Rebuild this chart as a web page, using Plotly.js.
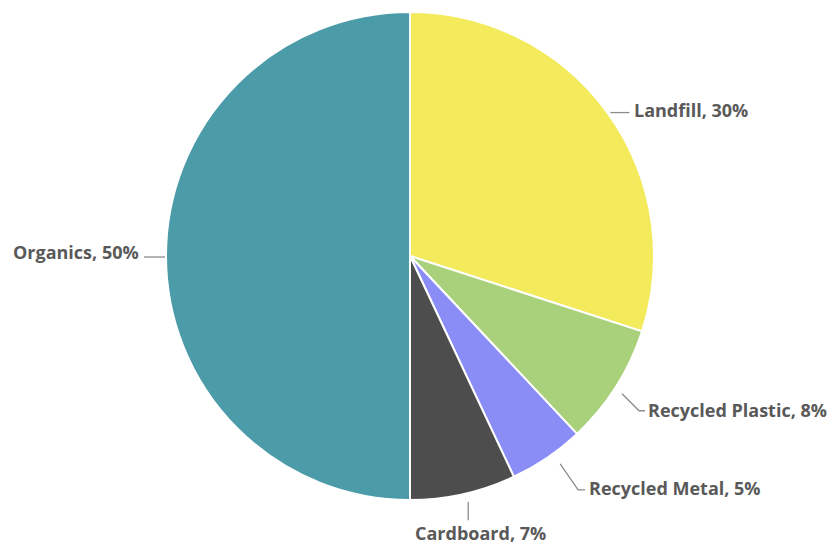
<!DOCTYPE html>
<html>
<head>
<meta charset="utf-8">
<script src="https://cdn.plot.ly/plotly-3.0.1.min.js"></script>
<style>html,body{margin:0;padding:0;background:#fff;}#chart{width:829px;height:546px;}</style>
</head>
<body>
<div id="chart"></div>
<script>
// ---- data ----
const labels = ["Landfill", "Recycled Plastic", "Recycled Metal", "Cardboard", "Organics"];
const values = [30, 8, 5, 7, 50];
const colors = ["#f3ea5c", "#a9d17b", "#8b8df6", "#4d4d4d", "#4b9ba8"];

// ---- label layout (pixel offsets from slice edge midpoint) ----
const leader = [
  {pts: [[3, 0], [22, 0]], text: [25, -3], anchor: "left"},
  {pts: [[6, 7], [23, 24], [29, 24]], text: [30, 23], anchor: "left"},
  {pts: [[13, 6], [31, 32], [38, 32]], text: [40, 30], anchor: "left"},
  {pts: [[5, 8], [5, 26]], text: [17, 39], anchor: "center"},
  {pts: [[-1, 1], [-22, 1]], text: [-25, -4], anchor: "right"}
];

const W = 829, H = 546;
const cx = 410, cy = 256, R = 244;
const px = x => x / W, py = y => 1 - y / H;

const total = values.reduce((a, b) => a + b, 0);
const shapes = [], annotations = [];
let cum = 0;
values.forEach((v, i) => {
  const mid = (cum + v / 2) / total * 2 * Math.PI;
  cum += v;
  const ex = cx + R * Math.sin(mid), ey = cy - R * Math.cos(mid);
  const L = leader[i];
  const path = L.pts.map((p, k) => (k ? "L" : "M") + px(ex + p[0]).toFixed(5) + "," + py(ey + p[1]).toFixed(5)).join(" ");
  shapes.push({type: "path", xref: "paper", yref: "paper", path: path, line: {color: "#8c8c8c", width: 1.3}});
  const pct = Math.round(v / total * 100);
  annotations.push({
    xref: "paper", yref: "paper", x: px(ex + L.text[0]), y: py(ey + L.text[1]),
    xanchor: L.anchor, yanchor: "middle", showarrow: false,
    text: "<b>" + labels[i] + ", " + pct + "%</b>",
    font: {family: "Open Sans, sans-serif", size: 18, color: "#595959"}
  });
});

Plotly.newPlot("chart", [{
  type: "pie",
  labels: labels,
  values: values,
  sort: false,
  direction: "clockwise",
  rotation: 0,
  marker: {colors: colors, line: {color: "#ffffff", width: 2}},
  textinfo: "none",
  hoverinfo: "label+percent",
  domain: {x: [px(cx - R), px(cx + R)], y: [py(cy + R), py(cy - R)]}
}], {
  width: W, height: H,
  margin: {l: 0, r: 0, t: 0, b: 0},
  showlegend: false,
  paper_bgcolor: "#ffffff",
  shapes: shapes,
  annotations: annotations
}, {displayModeBar: false, staticPlot: true});
</script>
</body>
</html>
